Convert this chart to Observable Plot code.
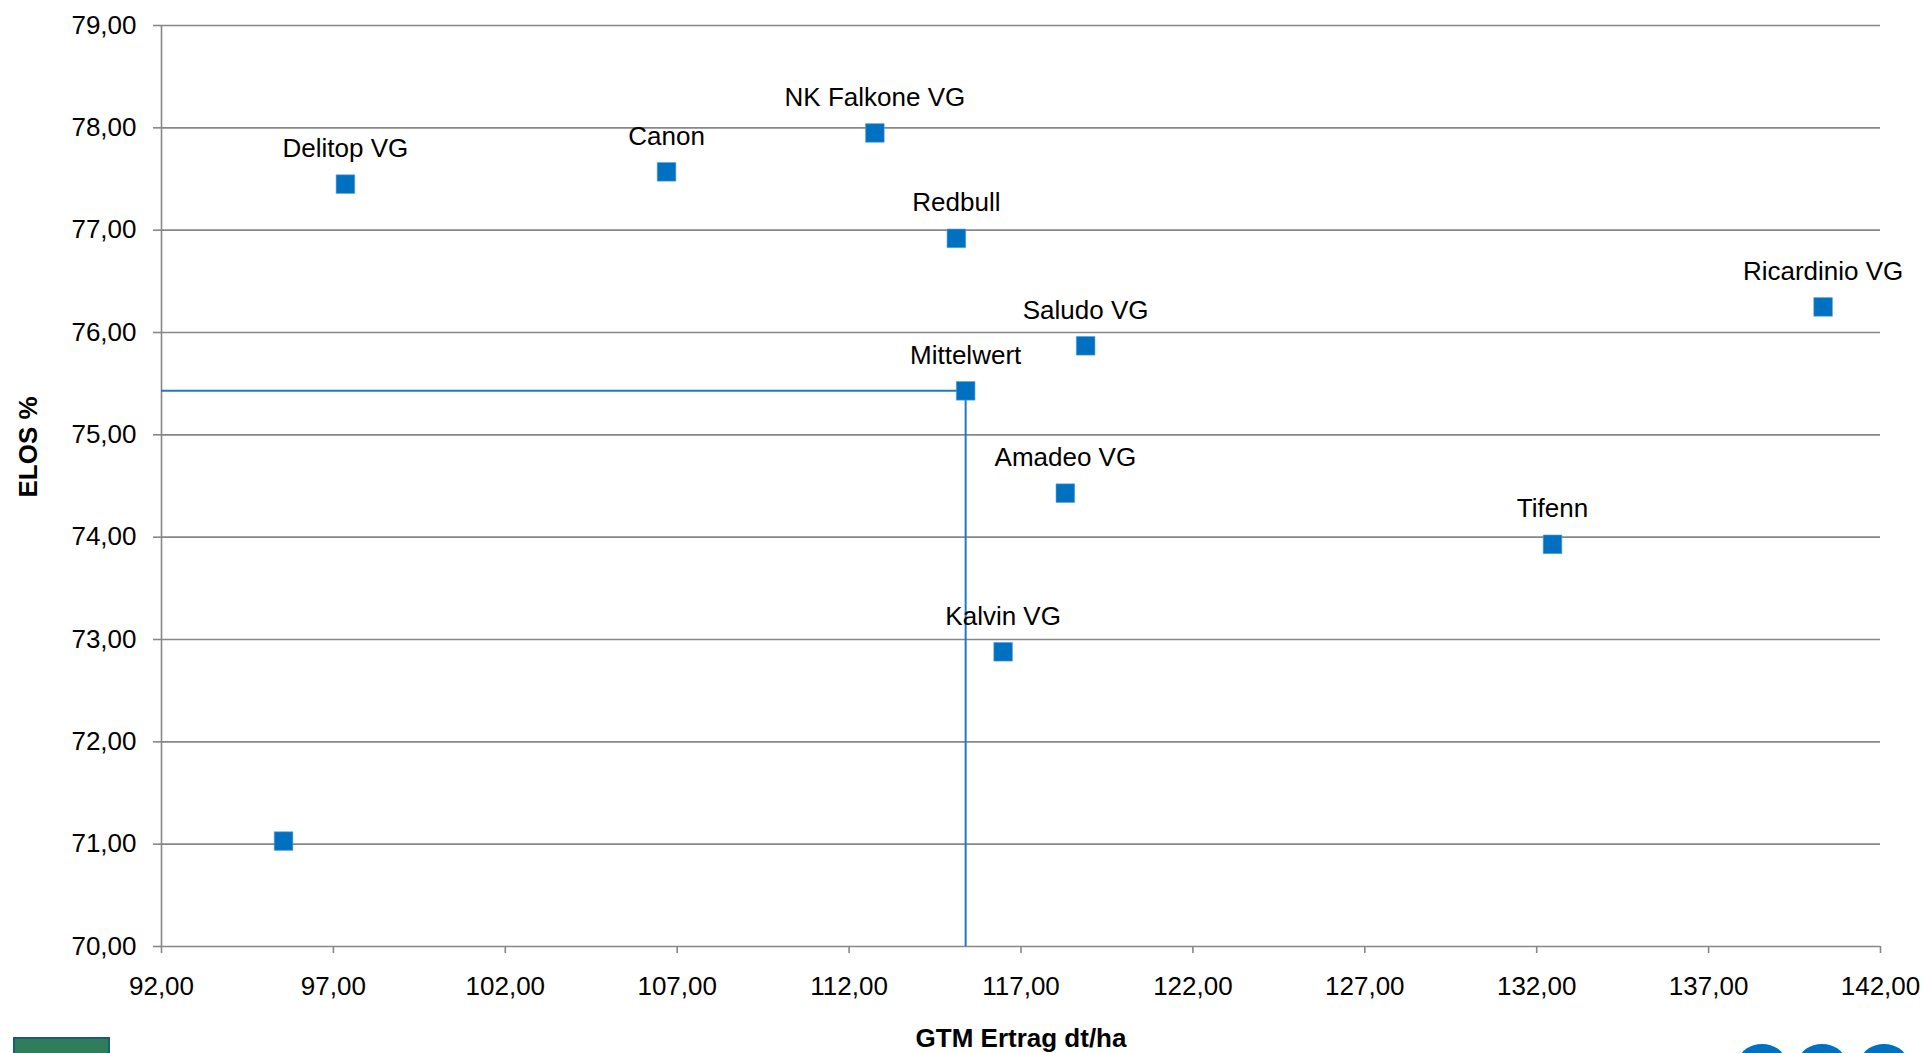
<!DOCTYPE html>
<html><head><meta charset="utf-8">
<script src="https://cdn.jsdelivr.net/npm/d3@7"></script>
<script src="https://cdn.jsdelivr.net/npm/@observablehq/plot@0.6"></script>
<style>
body{margin:0;background:#fff;overflow:hidden}
#chart{position:relative;width:1924px;height:1053px}
.logoL{position:absolute;left:13px;top:1037px;width:97px;height:30px;background:#2f7d5a;border:2px solid #1d5a7a;box-sizing:border-box}
.logoR{position:absolute;top:1044px;width:44px;height:30px;border-radius:50%;background:#0070C0}
</style>
</head><body><div id="chart"></div>
<script>
const varieties = ["Delitop VG","Canon","NK Falkone VG","Redbull","Saludo VG","Mittelwert","Amadeo VG","Kalvin VG","Ricardinio VG","Tifenn",""];
const ertrag = [97.35,106.69,112.75,115.12,118.88,115.39,118.29,116.48,140.33,132.46,95.55];
const elos   = [77.45,77.57,77.95,76.92,75.87,75.43,74.43,72.88,76.25,73.93,71.03];
const xTicks = [92,97,102,107,112,117,122,127,132,137,142];
const yTicks = [70,71,72,73,74,75,76,77,78,79];
const meanIndex = 5;
const xLabel = "GTM Ertrag dt/ha";
const yLabel = "ELOS %";

const idx = d3.range(varieties.length);
const fmt = v => d3.format(".2f")(v).replace(".", ",");
const gray = "#878787";
const font = "Liberation Sans, Arial, sans-serif";
const mx = ertrag[meanIndex], my = elos[meanIndex];

const chart = Plot.plot({
  width: 1924, height: 1053,
  marginLeft: 161, marginRight: 44, marginTop: 25, marginBottom: 107,
  style: {fontFamily: font, fontSize: "26px", color: "black", background: "white"},
  x: {domain: [92, 142]},
  y: {domain: [70, 79]},
  marks: [
    Plot.ruleY(yTicks, {x1: 92, x2: 142, stroke: gray, strokeWidth: 1.6}),
    Plot.ruleX([92], {y1: 70, y2: 79, stroke: gray, strokeWidth: 1.6}),
    Plot.axisY({ticks: yTicks, tickSize: 8, tickPadding: 17, tickFormat: fmt, fontSize: 26, stroke: gray, strokeWidth: 1.6, fill: "black", label: null}),
    Plot.axisX({ticks: xTicks, tickSize: 7, tickPadding: 23, tickFormat: fmt, fontSize: 26, stroke: gray, strokeWidth: 1.6, fill: "black", label: null}),
    Plot.ruleY([my], {x1: 92, x2: mx, stroke: "#1F78C8", strokeWidth: 2}),
    Plot.ruleX([mx], {y1: 70, y2: my, stroke: "#1F78C8", strokeWidth: 2}),
    Plot.dot(idx, {x: i => ertrag[i], y: i => elos[i], symbol: "square", r: 10.5, fill: "#0070C0", stroke: "#5a9ad6", strokeWidth: 0.6}),
    Plot.text(idx, {x: i => ertrag[i], y: i => elos[i], text: i => varieties[i], dy: -27, lineAnchor: "bottom", fontSize: 26, fill: "black"}),
    Plot.text([yLabel], {frameAnchor: "left", textAnchor: "middle", lineAnchor: "middle", dx: -133, dy: -39, rotate: -90, fontSize: 26, fontWeight: "bold", fill: "black"}),
    Plot.text([xLabel], {frameAnchor: "bottom", textAnchor: "middle", lineAnchor: "bottom", dy: 100, fontSize: 26, fontWeight: "bold", fill: "black"})
  ]
});
const host = document.getElementById("chart");
host.appendChild(chart);
const l = document.createElement("div"); l.className = "logoL"; host.appendChild(l);
[1740, 1800, 1862].forEach(x => { const d = document.createElement("div"); d.className = "logoR"; d.style.left = x + "px"; host.appendChild(d); });
</script>
</body></html>
